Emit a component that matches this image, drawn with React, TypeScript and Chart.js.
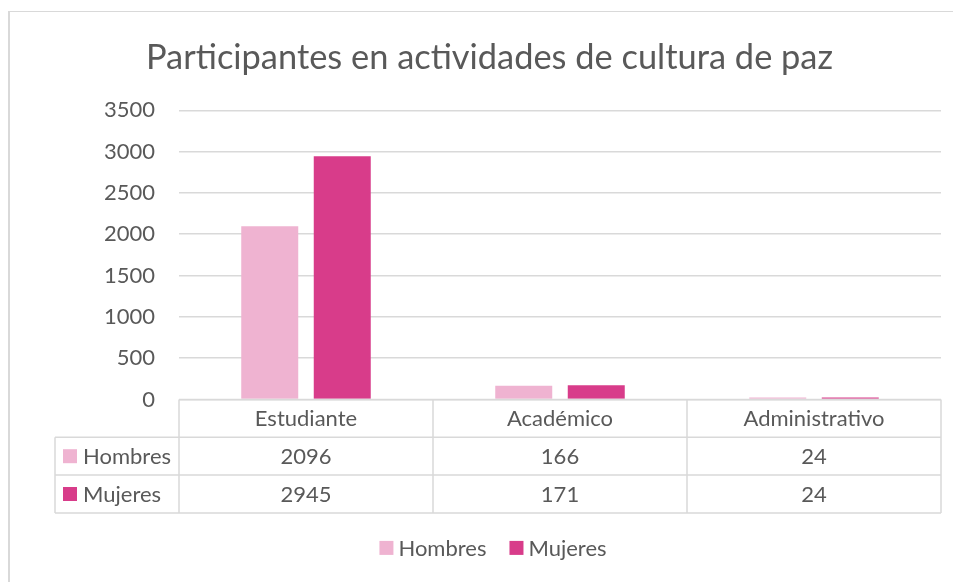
import { useEffect, useRef } from "react";
import { Chart, registerables } from "chart.js";

Chart.register(...registerables);

const chartTitle = "Participantes en actividades de cultura de paz";
const categories = ["Estudiante", "Académico", "Administrativo"];
const seriesNames = ["Hombres", "Mujeres"];
const hombres = [2096, 166, 24];
const mujeres = [2945, 171, 24];
const yMin = 0;
const yMax = 3500;
const yStep = 500;

const COLORS = ["#EFB3D1", "#D83C8A"];
const TEXT = "#595959";
const LINE = "#D9D9D9";
const FONT = "Lato, 'Open Sans', sans-serif";
const FS = 22;

const tablePlugin = {
  id: "dataTable",
  afterDraw(chart: any) {
    const ctx = chart.ctx as CanvasRenderingContext2D;
    const a = chart.chartArea;
    const xs = chart.scales.x;
    const n = categories.length;
    const cw = (a.right - a.left) / n;
    const rowH = 37.8;
    const leftX = a.left - 124;
    const top = a.bottom;
    const line = (x1: number, y1: number, x2: number, y2: number) => {
      ctx.beginPath();
      ctx.moveTo(x1, y1);
      ctx.lineTo(x2, y2);
      ctx.stroke();
    };
    ctx.save();
    ctx.strokeStyle = LINE;
    ctx.lineWidth = 1.5;
    line(a.left, top, a.right, top);
    for (let r = 1; r <= 3; r++) line(leftX, top + r * rowH, a.right, top + r * rowH);
    for (let i = 0; i <= n; i++) {
      const x = a.left + i * cw;
      line(x, top, x, top + 3 * rowH);
    }
    line(leftX, top + rowH, leftX, top + 3 * rowH);

    ctx.font = `${FS}px ${FONT}`;
    ctx.fillStyle = TEXT;
    ctx.textAlign = "center";
    ctx.textBaseline = "middle";
    categories.forEach((c, i) => ctx.fillText(c, xs.getPixelForValue(i), top + rowH / 2 + 1));
    chart.data.datasets.forEach((ds: any, r: number) => {
      const cy = top + (r + 1.5) * rowH;
      ctx.fillStyle = ds.backgroundColor;
      ctx.fillRect(leftX + 8, cy - 7, 14, 14);
      ctx.fillStyle = TEXT;
      ctx.textAlign = "left";
      ctx.fillText(ds.label, leftX + 28, cy + 1);
      ctx.textAlign = "center";
      ds.data.forEach((v: number, i: number) => ctx.fillText(String(v), xs.getPixelForValue(i), cy + 1));
    });

    // legend
    const legY = top + 3 * rowH + 35;
    const widths = chart.data.datasets.map((ds: any) => 14 + 5 + ctx.measureText(ds.label).width);
    const gap = 23;
    const total = widths.reduce((s: number, w: number) => s + w, 0) + gap * (widths.length - 1);
    let x = chart.width / 2 - total / 2;
    chart.data.datasets.forEach((ds: any, i: number) => {
      ctx.fillStyle = ds.backgroundColor;
      ctx.fillRect(x, legY - 7, 14, 14);
      ctx.fillStyle = TEXT;
      ctx.textAlign = "left";
      ctx.fillText(ds.label, x + 19, legY + 1);
      x += widths[i] + gap;
    });
    ctx.restore();
  },
};

export default function App() {
  const ref = useRef<HTMLCanvasElement | null>(null);
  useEffect(() => {
    if (!ref.current) return;
    const chart = new Chart(ref.current, {
      type: "bar",
      data: {
        labels: categories,
        datasets: [
          { label: seriesNames[0], data: hombres, backgroundColor: COLORS[0], categoryPercentage: 0.571, barPercentage: 0.786 },
          { label: seriesNames[1], data: mujeres, backgroundColor: COLORS[1], categoryPercentage: 0.571, barPercentage: 0.786 },
        ],
      },
      options: {
        responsive: false,
        animation: false,
        layout: { padding: { left: 28, right: 35, top: 0, bottom: 0 } },
        plugins: {
          legend: { display: false },
          tooltip: { enabled: false },
          title: {
            display: true,
            text: chartTitle,
            color: TEXT,
            font: { size: 34.4, family: FONT, weight: "normal" },
            padding: { top: 25, bottom: 32 },
          },
        },
        scales: {
          x: {
            grid: { display: false },
            border: { display: false },
            ticks: { display: false },
            afterFit: (s: any) => {
              s.height = 182.5;
            },
          },
          y: {
            min: yMin,
            max: yMax,
            grid: { color: LINE, lineWidth: 1.5, drawTicks: false },
            border: { display: false },
            ticks: {
              stepSize: yStep,
              color: TEXT,
              font: { size: FS, family: FONT },
              padding: 24,
              callback: (v: any) => String(v),
            },
            afterFit: (s: any) => {
              s.width = 141;
            },
          },
        },
      },
      plugins: [tablePlugin],
    });
    return () => chart.destroy();
  }, []);
  return (
    <div style={{ position: "fixed", left: 0, top: 0, width: 953, height: 582, overflow: "hidden", background: "#fff" }}>
      <div
        style={{
          position: "absolute",
          left: 8,
          top: 11,
          width: 966,
          height: 600,
          borderTop: "1px solid #D9D9D9",
          borderLeft: "2px solid #D9D9D9",
        }}
      >
        <canvas ref={ref} width={966} height={570} style={{ display: "block", width: 966, height: 570 }} />
      </div>
    </div>
  );
}
